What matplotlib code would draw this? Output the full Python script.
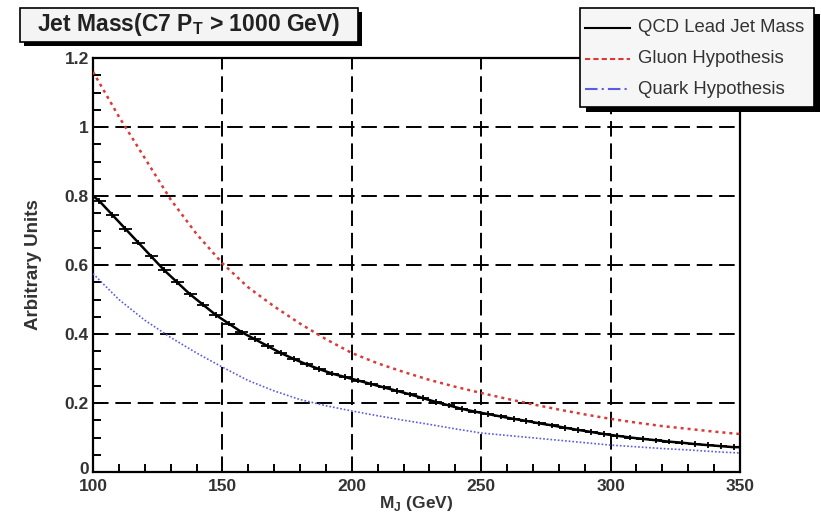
import numpy as np
import matplotlib
matplotlib.use('Agg')
import matplotlib.pyplot as plt
import matplotlib.transforms as mtrans
from matplotlib.patches import Rectangle
from matplotlib.lines import Line2D

plt.rcParams['font.family'] = ['Liberation Sans', 'DejaVu Sans']

# ── data ────────────────────────────────────────────────────────────────────
# QCD lead jet mass histogram, 5 GeV bins from 100 to 350 GeV
qcd_edges = np.arange(100, 351, 5)
qcd_vals = [0.785, 0.745, 0.705, 0.665, 0.625, 0.585, 0.550, 0.515, 0.485, 0.455,
            0.430, 0.405, 0.385, 0.365, 0.345, 0.328, 0.312, 0.298, 0.285, 0.275,
            0.265, 0.255, 0.245, 0.235, 0.225, 0.214, 0.203, 0.193, 0.183, 0.175,
            0.168, 0.161, 0.154, 0.148, 0.141, 0.135, 0.128, 0.122, 0.116, 0.110,
            0.105, 0.100, 0.096, 0.092, 0.088, 0.085, 0.081, 0.078, 0.075, 0.072]
qcd_err = 0.008

# hypothesis curves sampled every 10 GeV
hyp_x = [100, 110, 120, 130, 140, 150, 160, 170, 180, 190, 200, 210, 220,
         230, 240, 250, 260, 270, 280, 290, 300, 310, 320, 330, 340, 350]
gluon = [1.16, 1.03, 0.91, 0.79, 0.69, 0.605, 0.535, 0.48, 0.43, 0.385, 0.345,
         0.315, 0.29, 0.267, 0.247, 0.229, 0.212, 0.196, 0.181, 0.167, 0.154,
         0.143, 0.133, 0.125, 0.117, 0.110]
quark = [0.575, 0.50, 0.44, 0.39, 0.345, 0.304, 0.265, 0.235, 0.21, 0.192, 0.177,
         0.163, 0.150, 0.138, 0.125, 0.113, 0.106, 0.099, 0.092, 0.085, 0.078,
         0.073, 0.068, 0.064, 0.059, 0.055]

legend_labels = ['QCD Lead Jet Mass', 'Gluon Hypothesis', 'Quark Hypothesis']
title_text = r'Jet Mass(C7 P$_\mathregular{T}$ > 1000 GeV)'

W, H = 821, 516
def fx(px): return px / W
def fy(py): return 1 - py / H

fig = plt.figure(figsize=(W / 100, H / 100), dpi=100)
ax = fig.add_axes([fx(93), fy(472), (740 - 93) / W, (472 - 58) / H])

gluon_c = '#d83a3a'
quark_c = '#5a5ae6'
txt_c = '#333333'

ax.plot(hyp_x, gluon, color=gluon_c, ls=(0, (1.2, 1.6)), lw=1.8, zorder=3)
ax.plot(hyp_x, quark, color=quark_c, ls=(0, (1, 1.2)), lw=1.2, zorder=3)

# histogram drawn ROOT-style: line through bin centres with error crosses
centers = 0.5 * (qcd_edges[:-1] + qcd_edges[1:])
ax.plot(np.r_[qcd_edges[0], centers, qcd_edges[-1]],
        np.r_[0.80, qcd_vals, qcd_vals[-1]], color='black', lw=1.8, zorder=4)
ax.errorbar(centers, qcd_vals, xerr=2.5, yerr=qcd_err, fmt='none', ecolor='black',
            elinewidth=1.3, capsize=0, zorder=4)

ax.set_xlim(100, 350)
ax.set_ylim(0, 1.2)
ax.set_xticks([100, 150, 200, 250, 300, 350])
ax.set_xticks(np.arange(100, 351, 10), minor=True)
ax.set_yticks([0, 0.2, 0.4, 0.6, 0.8, 1.0, 1.2])
ax.set_yticklabels(['0', '0.2', '0.4', '0.6', '0.8', '1', '1.2'])
ax.set_yticks(np.arange(0, 1.21, 0.05), minor=True)
ax.tick_params(which='both', direction='in', top=False, right=False,
               width=1.4, labelsize=12.5)
ax.tick_params(axis='y', pad=3)
ax.tick_params(axis='x', pad=5)
ax.tick_params(which='major', length=8)
ax.tick_params(which='minor', length=6)
for lab in ax.get_xticklabels() + ax.get_yticklabels():
    lab.set_fontweight('bold')
    lab.set_color(txt_c)
# lift the "0" a touch so it sits just above the "100"
zero_lab = ax.get_yticklabels()[0]
zero_lab.set_transform(zero_lab.get_transform() +
                       mtrans.ScaledTranslation(0, 4 / 100, fig.dpi_scale_trans))
for sp in ax.spines.values():
    sp.set_linewidth(1.6)

for gx in [150, 200, 250, 300]:
    ax.axvline(gx, color='black', lw=1.4, ls=(0, (8, 3.5)), zorder=2)
for gy in [0.2, 0.4, 0.6, 0.8, 1.0]:
    ax.axhline(gy, color='black', lw=1.4, ls=(0, (8, 3.5)), zorder=2)

ax.set_xlabel(r'M$_\mathregular{J}$ (GeV)', fontsize=12.5, fontweight='bold',
              color=txt_c, labelpad=0)
ax.set_ylabel('Arbitrary Units', fontsize=13.5, fontweight='bold',
              color=txt_c, labelpad=16)

# title box with shadow
fig.patches.append(Rectangle((fx(24), fy(46)), (362 - 24) / W, (46 - 12) / H,
                             transform=fig.transFigure, facecolor='black',
                             edgecolor='none', zorder=1))
fig.patches.append(Rectangle((fx(20), fy(42)), (358 - 20) / W, (42 - 8) / H,
                             transform=fig.transFigure, facecolor='#f4f4f4',
                             edgecolor='black', lw=1.2, zorder=2))
fig.text(fx(189), fy(25), title_text, ha='center', va='center',
         fontsize=16.5, fontweight='bold', color='#222222', zorder=3)

# legend box with shadow
fig.patches.append(Rectangle((fx(586), fy(112)), (820 - 586) / W, (112 - 14) / H,
                             transform=fig.transFigure, facecolor='black',
                             edgecolor='none', zorder=1))
fig.patches.append(Rectangle((fx(580), fy(107)), (814 - 580) / W, (107 - 8) / H,
                             transform=fig.transFigure, facecolor='#f6f6f6',
                             edgecolor='black', lw=1.2, zorder=2))
leg_styles = [dict(color='black', ls='-', lw=1.5),
              dict(color=gluon_c, ls=(0, (2.5, 1.5)), lw=1.5),
              dict(color=quark_c, ls=(0, (6, 2, 1, 2)), lw=1.5)]
for row, (lab, st) in enumerate(zip(legend_labels, leg_styles)):
    yy = fy(28 + row * 30.5)
    fig.lines.append(Line2D([fx(585), fx(630)], [yy, yy], transform=fig.transFigure,
                            zorder=3, **st))
    fig.text(fx(638), yy, lab, ha='left', va='center', fontsize=13.3,
             color=txt_c, zorder=3)

fig.savefig('out.png', dpi=100)
